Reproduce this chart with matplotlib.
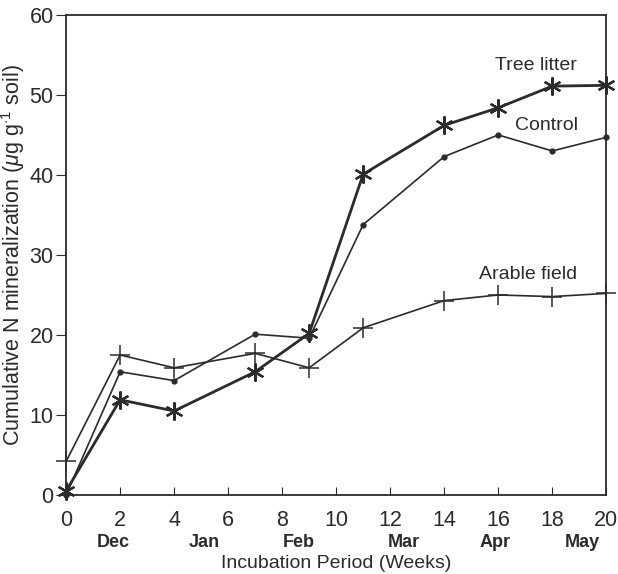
import matplotlib
matplotlib.use("Agg")
import matplotlib.pyplot as plt

# Incubation weeks and cumulative N mineralization (ug g-1 soil)
weeks = [0, 2, 4, 7, 9, 11, 14, 16, 18, 20]
tree_litter = [0.5, 11.9, 10.5, 15.4, 20.2, 40.1, 46.2, 48.4, 51.1, 51.2]
control = [0.0, 15.4, 14.3, 20.1, 19.6, 33.8, 42.3, 45.0, 43.0, 44.7]
arable_field = [4.2, 17.5, 15.9, 17.7, 15.9, 20.9, 24.3, 25.0, 24.8, 25.2]

x_ticks = [0, 2, 4, 6, 8, 10, 12, 14, 16, 18, 20]
y_ticks = [0, 10, 20, 30, 40, 50, 60]
months = ["Dec", "Jan", "Feb", "Mar", "Apr", "May"]
month_pos = [1.75, 5.1, 8.6, 12.5, 15.9, 19.1]

plt.rcParams['font.family'] = ['Liberation Sans', 'DejaVu Sans']
plt.rcParams['mathtext.fontset'] = 'custom'
plt.rcParams['mathtext.rm'] = 'Liberation Sans'
plt.rcParams['mathtext.it'] = 'Liberation Sans:italic'

ink = '#2b2b2b'
fig = plt.figure(figsize=(6.18, 5.74), dpi=100)
ax = fig.add_axes([0.107, 0.1376, 0.874, 0.8364])

ax.plot(weeks, arable_field, color=ink, lw=1.2, marker='+', ms=14, mew=1.1, clip_on=False, zorder=3)
ax.plot(weeks, control, color=ink, lw=1.2, marker='o', ms=3.5, clip_on=False, zorder=3)
ax.plot(weeks, tree_litter, color=ink, lw=2.0, marker=(6, 2, 0), ms=13, mew=1.6, clip_on=False, zorder=4)

ax.set_xlim(0, 20)
ax.set_ylim(0, 60)
ax.set_xticks(x_ticks)
ax.set_yticks(y_ticks)
ax.tick_params(axis='x', direction='in', length=6, labelsize=15.5, colors=ink, pad=11)
ax.tick_params(axis='y', direction='out', length=7, labelsize=15.5, colors=ink, pad=2)
for s in ax.spines.values():
    s.set_color(ink)
    s.set_linewidth(1.3)

# month names under the week numbers
for m, p in zip(months, month_pos):
    ax.text(p, -5.9, m, ha='center', va='center', fontsize=13, fontweight='bold', color=ink)

ax.text(10, -8.5, "Incubation Period (Weeks)", ha='center', va='center', fontsize=14, color=ink)
ax.set_ylabel(r"Cumulative N mineralization ($\mu$g g$^{\cdot 1}$ soil)", fontsize=15.5, color=ink, labelpad=2)

# series labels
ax.text(17.4, 53.7, "Tree litter", ha='center', va='center', fontsize=14, color=ink)
ax.text(17.8, 46.2, "Control", ha='center', va='center', fontsize=14, color=ink)
ax.text(17.1, 27.5, "Arable field", ha='center', va='center', fontsize=14, color=ink)

fig.savefig("out.png", dpi=100)
